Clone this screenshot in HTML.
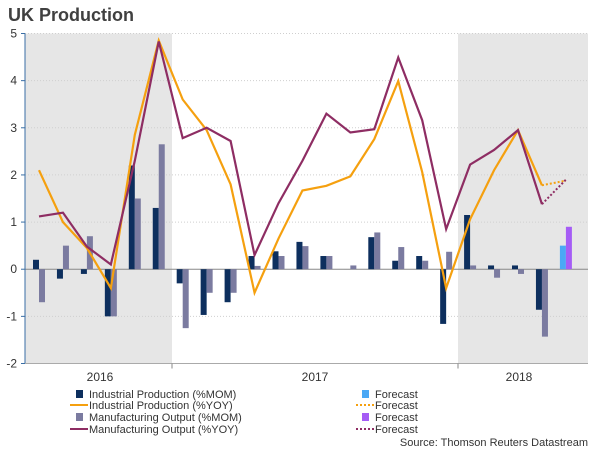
<!DOCTYPE html>
<html><head><meta charset="utf-8"><style>
body{margin:0;background:#fff;font-family:"Liberation Sans",sans-serif;}
svg text{font-family:"Liberation Sans",sans-serif;}
</style></head><body>
<svg id="c" width="600" height="450" xmlns="http://www.w3.org/2000/svg">
<text x="8" y="21" font-size="18" font-weight="bold" fill="#404040">UK Production</text>
<g id="plot"></g>
<g id="legend" font-size="11" fill="#333">
<rect x="76" y="390" width="7" height="8" fill="#0d2f5e"/>
<text x="89" y="398">Industrial Production (%MOM)</text>
<line x1="70" y1="405" x2="88" y2="405" stroke="#f5a00f" stroke-width="2"/>
<text x="89" y="409">Industrial Production (%YOY)</text>
<rect x="76" y="413" width="7" height="8" fill="#7b7ba0"/>
<text x="89" y="421">Manufacturing Output (%MOM)</text>
<line x1="70" y1="429" x2="88" y2="429" stroke="#8e2d63" stroke-width="2"/>
<text x="89" y="433">Manufacturing Output (%YOY)</text>
<rect x="362" y="390" width="7" height="8" fill="#4aa8f5"/>
<text x="375" y="398">Forecast</text>
<line x1="356" y1="405" x2="374" y2="405" stroke="#f5a00f" stroke-width="2" stroke-dasharray="2,2"/>
<text x="375" y="409">Forecast</text>
<rect x="362" y="413" width="7" height="8" fill="#a55cf5"/>
<text x="375" y="421">Forecast</text>
<line x1="356" y1="429" x2="374" y2="429" stroke="#8e2d63" stroke-width="2" stroke-dasharray="2,2"/>
<text x="375" y="433">Forecast</text>
</g>
<text x="588" y="446" font-size="11" fill="#333" text-anchor="end">Source: Thomson Reuters Datastream</text>
</svg>
<script>
const ipMom=[0.2,-0.2,-0.1,-1.0,2.2,1.3,-0.3,-0.97,-0.7,0.28,0.38,0.58,0.28,0,0.68,0.18,0.28,-1.16,1.15,0.08,0.08,-0.86];
const mfgMom=[-0.7,0.5,0.7,-1.0,1.5,2.65,-1.25,-0.5,-0.5,0.07,0.28,0.49,0.28,0.08,0.78,0.47,0.18,0.37,0.08,-0.18,-0.1,-1.43];
const ipYoy=[2.1,1.0,0.45,-0.4,2.85,4.85,3.6,2.95,1.8,-0.5,0.65,1.67,1.77,1.97,2.76,3.99,2.06,-0.4,1.06,2.1,2.95,1.78];
const mfgYoy=[1.12,1.2,0.48,0.1,2.3,4.83,2.78,3.0,2.72,0.3,1.4,2.3,3.3,2.9,2.97,4.49,3.16,0.85,2.22,2.53,2.95,1.38];
const forecastIpMom=[0.5];
const forecastMfgMom=[0.9];
const forecastIpYoy=[1.88];
const forecastMfgYoy=[1.9];
const yTicks=[-2,-1,0,1,2,3,4,5];
const yearLabels=["2016","2017","2018"];
const NS="http://www.w3.org/2000/svg";
const g=document.getElementById('plot');
const X0=25,X1=588,Y_TOP=33.5,Y_BOT=363.5,YMIN=-2,YMAX=5;
const N=ipMom.length+1;
const xAt=i=>39+i*23.95;
const yAt=v=>Y_BOT-(v-YMIN)/(YMAX-YMIN)*(Y_BOT-Y_TOP);
function mk(t,a){const e=document.createElementNS(NS,t);for(const k in a)e.setAttribute(k,a[k]);g.appendChild(e);return e;}
let e;
e=mk('rect',{x:X0,y:Y_TOP,width:172-X0,height:Y_BOT-Y_TOP,fill:'#e6e6e6'});


e=mk('rect',{x:458,y:Y_TOP,width:X1-458,height:Y_BOT-Y_TOP,fill:'#e6e6e6'});


yTicks.forEach(v=>{
  const y=yAt(v);
  if(v!==0&&v!==YMIN){e=mk('line',{x1:X0,x2:X1,y1:y,y2:y,stroke:'#cfcfcf','stroke-dasharray':'1,2'});
  
  }
  e=mk('line',{x1:X0-4,x2:X0,y1:y,y2:y,stroke:'#3a6ea5'});
  
  
  e=mk('text',{x:X0-8,y:y+4,'font-size':12,'text-anchor':'end',fill:'#333'});e.textContent=v;
  
  
});
e=mk('line',{x1:X0,x2:X1,y1:yAt(0),y2:yAt(0),stroke:'#888'});


e=mk('line',{x1:X0,x2:X0,y1:Y_TOP,y2:Y_BOT,stroke:'#3a6ea5'});


e=mk('line',{x1:X0,x2:X1,y1:Y_BOT,y2:Y_BOT,stroke:'#aaa'});


[172,458].forEach(x=>{e=mk('line',{x1:x,x2:x,y1:Y_BOT,y2:Y_BOT+5,stroke:'#888'});

});
const yearX=[100,315,519];
yearLabels.forEach((t,i)=>{e=mk('text',{x:yearX[i],y:381,'font-size':12,'text-anchor':'middle',fill:'#333'});e.textContent=t;

});
function bar(i,v,off,col,name){const y0=yAt(0),y=yAt(v);
  e=mk('rect',{x:xAt(i)+off,y:Math.min(y,y0),width:6,height:Math.max(Math.abs(y-y0),0.01),fill:col});
  
  }
ipMom.forEach((v,i)=>bar(i,v,-6,'#0d2f5e','bar-ip-mom'));
mfgMom.forEach((v,i)=>bar(i,v,0,'#7b7ba0','bar-mfg-mom'));
const fi=ipMom.length;
bar(fi,forecastIpMom[0],-6,'#4aa8f5','bar-forecast-ip-mom');
bar(fi,forecastMfgMom[0],0,'#a55cf5','bar-forecast-mfg-mom');
function line(arr,col,name){
  e=mk('polyline',{points:arr.map((v,i)=>xAt(i)+','+yAt(v)).join(' '),fill:'none',stroke:col,'stroke-width':2.2,'stroke-linejoin':'miter'});
  
  }
line(ipYoy,'#f5a00f','line-ip-yoy');
line(mfgYoy,'#8e2d63','line-mfg-yoy');
function fline(last,f,col,name){
  e=mk('line',{x1:xAt(fi-1),y1:yAt(last),x2:xAt(fi),y2:yAt(f),stroke:col,'stroke-width':2,'stroke-dasharray':'2,2'});
  
  }
fline(ipYoy[fi-1],forecastIpYoy[0],'#f5a00f','line-forecast-ip-yoy');
fline(mfgYoy[fi-1],forecastMfgYoy[0],'#8e2d63','line-forecast-mfg-yoy');
</script>
</body></html>
